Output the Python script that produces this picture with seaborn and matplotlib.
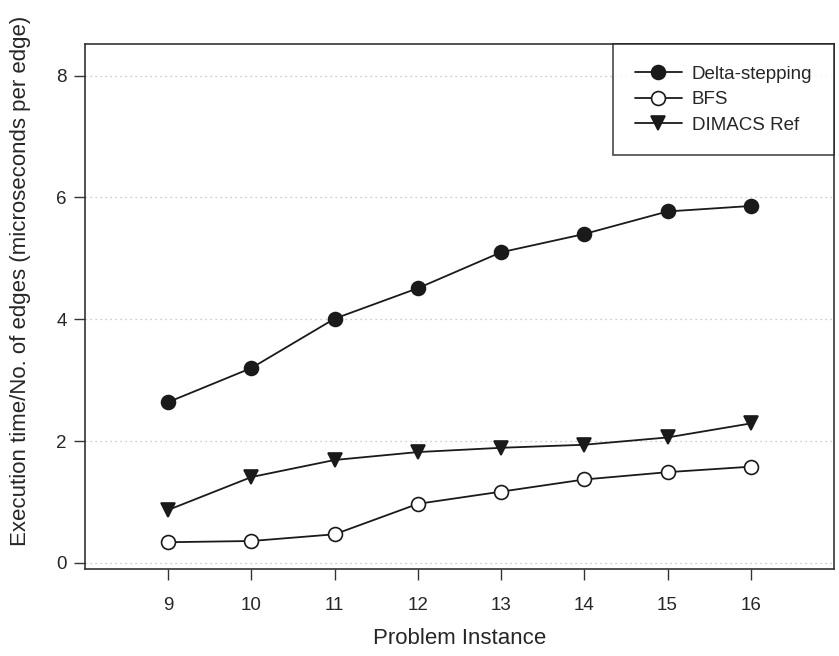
import numpy as np
import pandas as pd
import seaborn as sns
import matplotlib.pyplot as plt

# values
instances = [9, 10, 11, 12, 13, 14, 15, 16]
delta_stepping = [2.64, 3.20, 4.01, 4.51, 5.10, 5.40, 5.77, 5.86]
bfs = [0.34, 0.36, 0.47, 0.97, 1.17, 1.37, 1.49, 1.58]
dimacs_ref = [0.87, 1.41, 1.69, 1.82, 1.89, 1.94, 2.06, 2.29]
series_names = ['Delta-stepping', 'BFS', 'DIMACS Ref']

df = pd.DataFrame({'instance': instances * 3,
                   'value': delta_stepping + bfs + dimacs_ref,
                   'series': np.repeat(series_names, len(instances))})

sns.set_style('ticks')
plt.rcParams['font.family'] = ['Liberation Sans', 'DejaVu Sans']

fig = plt.figure(figsize=(8.39, 6.56), dpi=100)
ax = fig.add_axes([0.1013, 0.1326, 0.8927, 0.8004])

styles = {'Delta-stepping': ('o', '#1a1a1a'),
          'BFS': ('o', 'white'),
          'DIMACS Ref': ('v', '#1a1a1a')}

for name in series_names:
    m, fc = styles[name]
    sns.lineplot(data=df[df['series'] == name], x='instance', y='value', ax=ax,
                 color='#1a1a1a', linewidth=1.3, marker=m, markersize=10,
                 markerfacecolor=fc, markeredgecolor='#1a1a1a', markeredgewidth=1.2,
                 label=name)

ax.set_xlim(8, 17)
ax.set_ylim(-0.1, 8.52)
ax.set_xticks(instances)
ax.set_yticks([0, 2, 4, 6, 8])
ax.yaxis.grid(True, linestyle=(0, (1, 3)), color='#bbbbbb', linewidth=0.9)
ax.set_axisbelow(True)

for s in ax.spines.values():
    s.set_color('#333333')
    s.set_linewidth(1.2)
ax.tick_params(axis='x', direction='out', length=8, width=1, color='#333333',
               pad=12, labelsize=13.5)
ax.tick_params(axis='y', direction='out', length=8, width=1, color='#333333',
               pad=5, labelsize=13.5)

ax.set_xlabel('Problem Instance', fontsize=16)
ax.set_ylabel('Execution time/No. of edges (microseconds per edge)', fontsize=16)
ax.xaxis.set_label_coords(0.5, -0.113)
ax.yaxis.set_label_coords(-0.072, 0.549)

leg = ax.legend(loc='upper right', bbox_to_anchor=(1.0, 1.0), frameon=True, fancybox=False,
                edgecolor='#1a1a1a', fontsize=13.5, handlelength=2.5, borderpad=1.15,
                labelspacing=0.45, borderaxespad=0, handletextpad=0.55)
leg.get_frame().set_linewidth(1.2)

fig.savefig('out.png', dpi=100)
